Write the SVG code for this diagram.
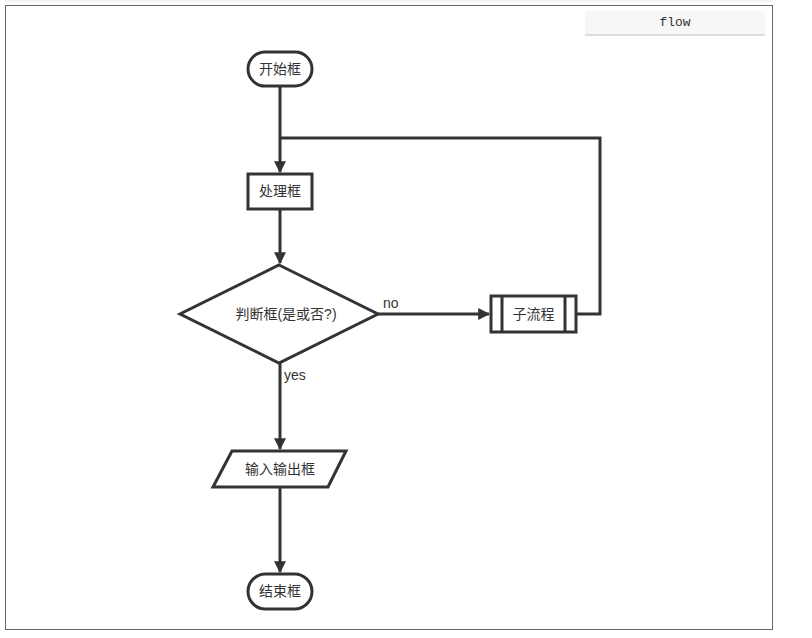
<svg xmlns="http://www.w3.org/2000/svg" width="812" height="638" viewBox="0 0 812 638">
<defs>
<style>
.shape{fill:#fff;stroke:#333;stroke-width:3}
.line{fill:none;stroke:#333;stroke-width:3}
.t{font-family:"Liberation Sans","Noto Sans CJK SC",sans-serif;font-size:14px;fill:#333;text-anchor:middle;dominant-baseline:central}
.lbl{font-family:"Liberation Sans","Noto Sans CJK SC",sans-serif;font-size:14px;fill:#333}
</style>
<marker id="arr" viewBox="0 0 10 10" refX="9" refY="5" markerWidth="4" markerHeight="4" orient="auto" markerUnits="strokeWidth">
<path d="M0,0 L10,5 L0,10 z" fill="#333"/>
</marker>
</defs>
<rect width="812" height="638" fill="#fff"/>
<line x1="5" y1="1" x2="772" y2="1" stroke="#e4e4e4" stroke-width="1"/>
<rect x="5.5" y="5.5" width="767" height="624" fill="#fff" stroke="#666" stroke-width="1"/>
<g id="btn">
<rect x="585" y="11" width="180" height="24" rx="2" fill="#f7f7f7"/>
<line x1="585" y1="35" x2="765" y2="35" stroke="#b8bec6" stroke-width="1"/>
<text x="675" y="22.5" font-family="Liberation Mono,monospace" font-size="13" fill="#333" text-anchor="middle" dominant-baseline="central">flow</text>
</g>
<g id="connectors">
<path class="line" d="M280,86 V172" marker-end="url(#arr)"/>
<path class="line" d="M576,314 H600 V138 H280"/>
<path class="line" d="M280,209 V263" marker-end="url(#arr)"/>
<path class="line" d="M378,314 H489" marker-end="url(#arr)"/>
<path class="line" d="M280,363 V449" marker-end="url(#arr)"/>
<path class="line" d="M280,487 V572" marker-end="url(#arr)"/>
<text class="lbl" x="383" y="308">no</text>
<text class="lbl" x="284" y="380">yes</text>
</g>
<g id="start">
<rect class="shape" x="248" y="52" width="64" height="34" rx="17"/>
<text class="t" x="280" y="68.5">开始框</text>
</g>
<g id="process">
<rect class="shape" x="248" y="174" width="64" height="35"/>
<text class="t" x="280" y="191">处理框</text>
</g>
<g id="decision">
<polygon class="shape" points="279,265 378,314 279,363 180,314"/>
<text class="t" x="286" y="313.5">判断框(是或否?)</text>
</g>
<g id="subprocess">
<rect class="shape" x="491" y="296" width="85" height="36"/>
<line class="line" x1="502" y1="296" x2="502" y2="332"/>
<line class="line" x1="565" y1="296" x2="565" y2="332"/>
<text class="t" x="533.5" y="313.5">子流程</text>
</g>
<g id="io">
<polygon class="shape" points="232,451 346,451 328,487 213,487"/>
<text class="t" x="280" y="468.5">输入输出框</text>
</g>
<g id="end">
<rect class="shape" x="248" y="574" width="64" height="35" rx="17.5"/>
<text class="t" x="280" y="591">结束框</text>
</g>
</svg>
